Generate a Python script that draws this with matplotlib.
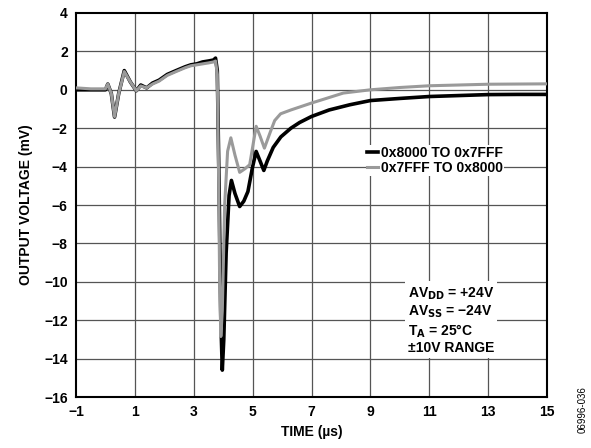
import matplotlib
matplotlib.use('Agg')
import matplotlib.pyplot as plt

# ── Data ─────────────────────────────────────────────────────────────────────
t_black = [-1.0, -0.5, 0.0, 0.08, 0.2, 0.31, 0.45, 0.64, 0.85, 1.05, 1.2, 1.4,
           1.6, 1.82, 2.1, 2.4, 2.71, 2.9, 3.1, 3.3, 3.5, 3.67, 3.74, 3.8,
           3.86, 3.92, 3.97, 4.02, 4.1, 4.2, 4.28, 4.4, 4.56, 4.7, 4.84, 5.0,
           5.12, 5.25, 5.38, 5.5, 5.7, 5.96, 6.3, 6.6, 7.0, 7.6, 8.3, 9.0,
           10.0, 11.0, 12.0, 13.0, 14.0, 15.0]
v_black = [0.0, 0.0, 0.0, 0.3, -0.2, -1.42, -0.2, 1.0, 0.4, -0.05, 0.25, 0.1,
           0.35, 0.5, 0.8, 1.0, 1.2, 1.3, 1.35, 1.45, 1.5, 1.55, 1.65, 1.0,
           -5.0, -12.0, -14.6, -13.0, -8.5, -5.5, -4.72, -5.4, -6.08, -5.8,
           -5.3, -4.0, -3.21, -3.7, -4.2, -3.7, -3.0, -2.45, -2.0, -1.7,
           -1.39, -1.05, -0.78, -0.56, -0.45, -0.35, -0.3, -0.25, -0.24, -0.24]

t_gray = [-1.0, -0.5, 0.0, 0.08, 0.2, 0.31, 0.45, 0.64, 0.85, 1.05, 1.2, 1.4,
          1.6, 1.82, 2.1, 2.4, 2.71, 2.9, 3.1, 3.3, 3.5, 3.67, 3.74, 3.8,
          3.84, 3.88, 3.92, 3.97, 4.05, 4.15, 4.26, 4.4, 4.56, 4.75, 4.9,
          5.12, 5.25, 5.4, 5.6, 5.75, 5.95, 6.3, 7.0, 7.5, 8.08, 9.0, 10.0,
          11.0, 12.0, 13.0, 14.0, 15.0]
v_gray = [0.1, 0.05, 0.05, 0.3, -0.2, -1.4, -0.2, 0.95, 0.4, -0.05, 0.2, 0.1,
          0.3, 0.45, 0.75, 0.95, 1.15, 1.25, 1.3, 1.35, 1.4, 1.45, 1.5, 0.8,
          -4.0, -10.0, -12.85, -11.5, -6.0, -3.2, -2.5, -3.4, -4.3, -4.1,
          -3.9, -1.9, -2.4, -3.04, -2.2, -1.6, -1.25, -1.05, -0.69, -0.45,
          -0.17, 0.0, 0.12, 0.21, 0.25, 0.29, 0.3, 0.31]

x_ticks = [-1, 1, 3, 5, 7, 9, 11, 13, 15]
y_ticks = list(range(-16, 5, 2))
series_labels = ['0x8000 TO 0x7FFF', '0x7FFF TO 0x8000']

plt.rcParams['font.family'] = ['Liberation Sans', 'DejaVu Sans']
plt.rcParams['font.weight'] = 'bold'

fig = plt.figure(figsize=(5.91, 4.48), dpi=100)
ax = fig.add_axes([76 / 591, 1 - 397 / 448, 471 / 591, 384 / 448])

ax.plot(t_black, v_black, color='black', lw=2.6, label=series_labels[0], zorder=3)
ax.plot(t_gray, v_gray, color='#9a9a9a', lw=2.2, label=series_labels[1], zorder=4)

ax.set_xlim(-1, 15)
ax.set_ylim(-16, 4)
ax.set_xticks(x_ticks)
ax.set_yticks(y_ticks)
ax.set_xticklabels([str(v).replace('-', '\u2212') for v in x_ticks])
ax.set_yticklabels([str(v).replace('-', '\u2212') for v in y_ticks])

# grid drawn from the tick positions
for xv in x_ticks[1:-1]:
    ax.axvline(xv, color='#555555', linewidth=0.9, zorder=1)
for yv in y_ticks[1:-1]:
    ax.axhline(yv, color='#555555', linewidth=0.9, zorder=1)

ax.tick_params(length=0, labelsize=10, pad=6)
for s in ax.spines.values():
    s.set_linewidth(1.5)

ax.set_xlabel('TIME (µs)', fontsize=10, fontweight='bold', labelpad=4)
ax.set_ylabel('OUTPUT VOLTAGE (mV)', fontsize=10, fontweight='bold', labelpad=8)

leg = ax.legend(loc='upper left', bbox_to_anchor=(0.6, 0.675), frameon=True,
                fancybox=False, framealpha=1, edgecolor='none',
                handlelength=0.8, handletextpad=0.2, borderpad=0.1,
                labelspacing=0.05, fontsize=10)
leg.set_zorder(5)

ax.text(0.705, 0.29,
        'AV$_{\\mathbf{DD}}$ = +24V\nAV$_{\\mathbf{SS}}$ = \u221224V\n'
        'T$_{\\mathbf{A}}$ = 25°C\n±10V RANGE',
        transform=ax.transAxes, fontsize=10, fontweight='bold', va='top',
        ha='left', linespacing=1.15, zorder=5,
        bbox=dict(facecolor='white', edgecolor='none', pad=2))

fig.text(0.985, 0.085, '06996-036', rotation=90, fontsize=7,
         fontweight='normal', ha='center', va='center')

fig.savefig('out.png', dpi=100)
